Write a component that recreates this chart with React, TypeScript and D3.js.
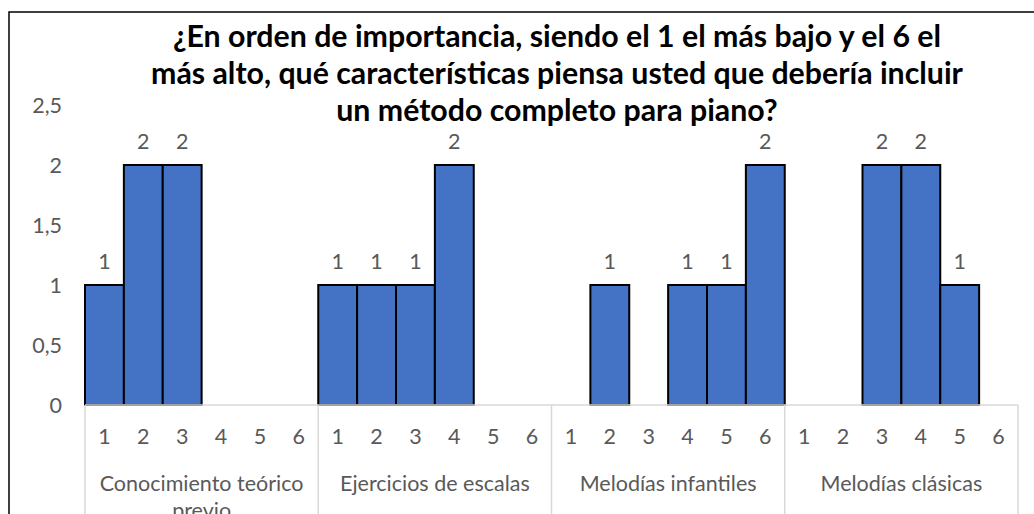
import React from "react";
import * as d3 from "d3";

const width = 1034;
const height = 514;
const margin = { left: 85, right: 16, top: 105, bottom: 109 };

const groups = [
  ["Conocimiento teórico", "previo"],
  ["Ejercicios de escalas"],
  ["Melodías infantiles"],
  ["Melodías clásicas"],
];
const ranks = ["1", "2", "3", "4", "5", "6"];
// counts per rank (1..6), one array per group
const conocimiento = [1, 2, 2, 0, 0, 0];
const escalas = [1, 1, 1, 2, 0, 0];
const infantiles = [0, 1, 0, 1, 1, 2];
const clasicas = [0, 0, 2, 2, 1, 0];
const values = [conocimiento, escalas, infantiles, clasicas];
const yTicks = [0, 0.5, 1, 1.5, 2, 2.5];
const titleLines = [
  "¿En orden de importancia, siendo el 1 el más bajo y el 6 el",
  "más alto, qué características piensa usted que debería incluir",
  "un método completo para piano?",
];

const font = "Lato, Carlito, Calibri, sans-serif";
const grey = "#595959";
const fs = 21.5;

const App = () => {
  const plotBottom = height - margin.bottom;
  const plotRight = width - margin.right;

  const cats = values.flatMap((vals, g) =>
    vals.map((v, i) => ({ key: `${g}-${i}`, g, rank: ranks[i], value: v }))
  );

  const x = d3
    .scaleBand()
    .domain(cats.map((c) => c.key))
    .range([margin.left, plotRight])
    .padding(0);
  const y = d3.scaleLinear().domain([0, 2.5]).range([plotBottom, margin.top]);
  const fmt = (v: number) => String(v).replace(".", ",");

  const groupStart = (g: number) => x(`${g}-0`) as number;
  const groupEnd = (g: number) => (x(`${g}-5`) as number) + x.bandwidth();

  return (
    <svg
      width={width}
      height={height}
      style={{ position: "absolute", left: 0, top: 0 }}
      fontFamily={font}
    >
      <rect x={0} y={0} width={width} height={height} fill="#fff" />
      <rect
        x={9}
        y={12}
        width={width + 10}
        height={height + 10}
        fill="none"
        stroke="#000"
        strokeWidth={1.5}
      />
      {titleLines.map((t, i) => (
        <text
          key={i}
          x={557}
          y={47 + i * 37}
          textAnchor="middle"
          fontSize={30.3}
          fontWeight="bold"
          fill="#000"
        >
          {t}
        </text>
      ))}
      {yTicks.map((t) => (
        <text
          key={t}
          x={62}
          y={y(t)}
          dy="0.36em"
          textAnchor="end"
          fontSize={fs}
          fill={grey}
        >
          {fmt(t)}
        </text>
      ))}
      {cats
        .filter((c) => c.value > 0)
        .map((c) => (
          <g key={c.key}>
            <rect
              x={x(c.key)}
              y={y(c.value)}
              width={x.bandwidth()}
              height={y(0) - y(c.value)}
              fill="#4472C4"
              stroke="#000"
              strokeWidth={2}
            />
            <text
              x={(x(c.key) as number) + x.bandwidth() / 2}
              y={y(c.value) - 16}
              textAnchor="middle"
              fontSize={fs}
              fill={grey}
            >
              {c.value}
            </text>
          </g>
        ))}
      <line
        x1={margin.left}
        x2={plotRight}
        y1={plotBottom}
        y2={plotBottom}
        stroke="#d9d9d9"
        strokeWidth={1.5}
      />
      {groups.map((_, g) => (
        <line
          key={`sep-${g}`}
          x1={groupStart(g)}
          x2={groupStart(g)}
          y1={plotBottom}
          y2={height}
          stroke="#d9d9d9"
          strokeWidth={1.5}
        />
      ))}
      <line
        x1={groupEnd(3)}
        x2={groupEnd(3)}
        y1={plotBottom}
        y2={height}
        stroke="#d9d9d9"
        strokeWidth={1.5}
      />
      {cats.map((c) => (
        <text
          key={`r-${c.key}`}
          x={(x(c.key) as number) + x.bandwidth() / 2}
          y={444}
          textAnchor="middle"
          fontSize={fs}
          fill={grey}
        >
          {c.rank}
        </text>
      ))}
      {groups.map((lines, g) =>
        lines.map((l, i) => (
          <text
            key={`g-${g}-${i}`}
            x={(groupStart(g) + groupEnd(g)) / 2}
            y={491 + i * 27}
            textAnchor="middle"
            fontSize={fs}
            fill={grey}
          >
            {l}
          </text>
        ))
      )}
    </svg>
  );
};

export default App;
